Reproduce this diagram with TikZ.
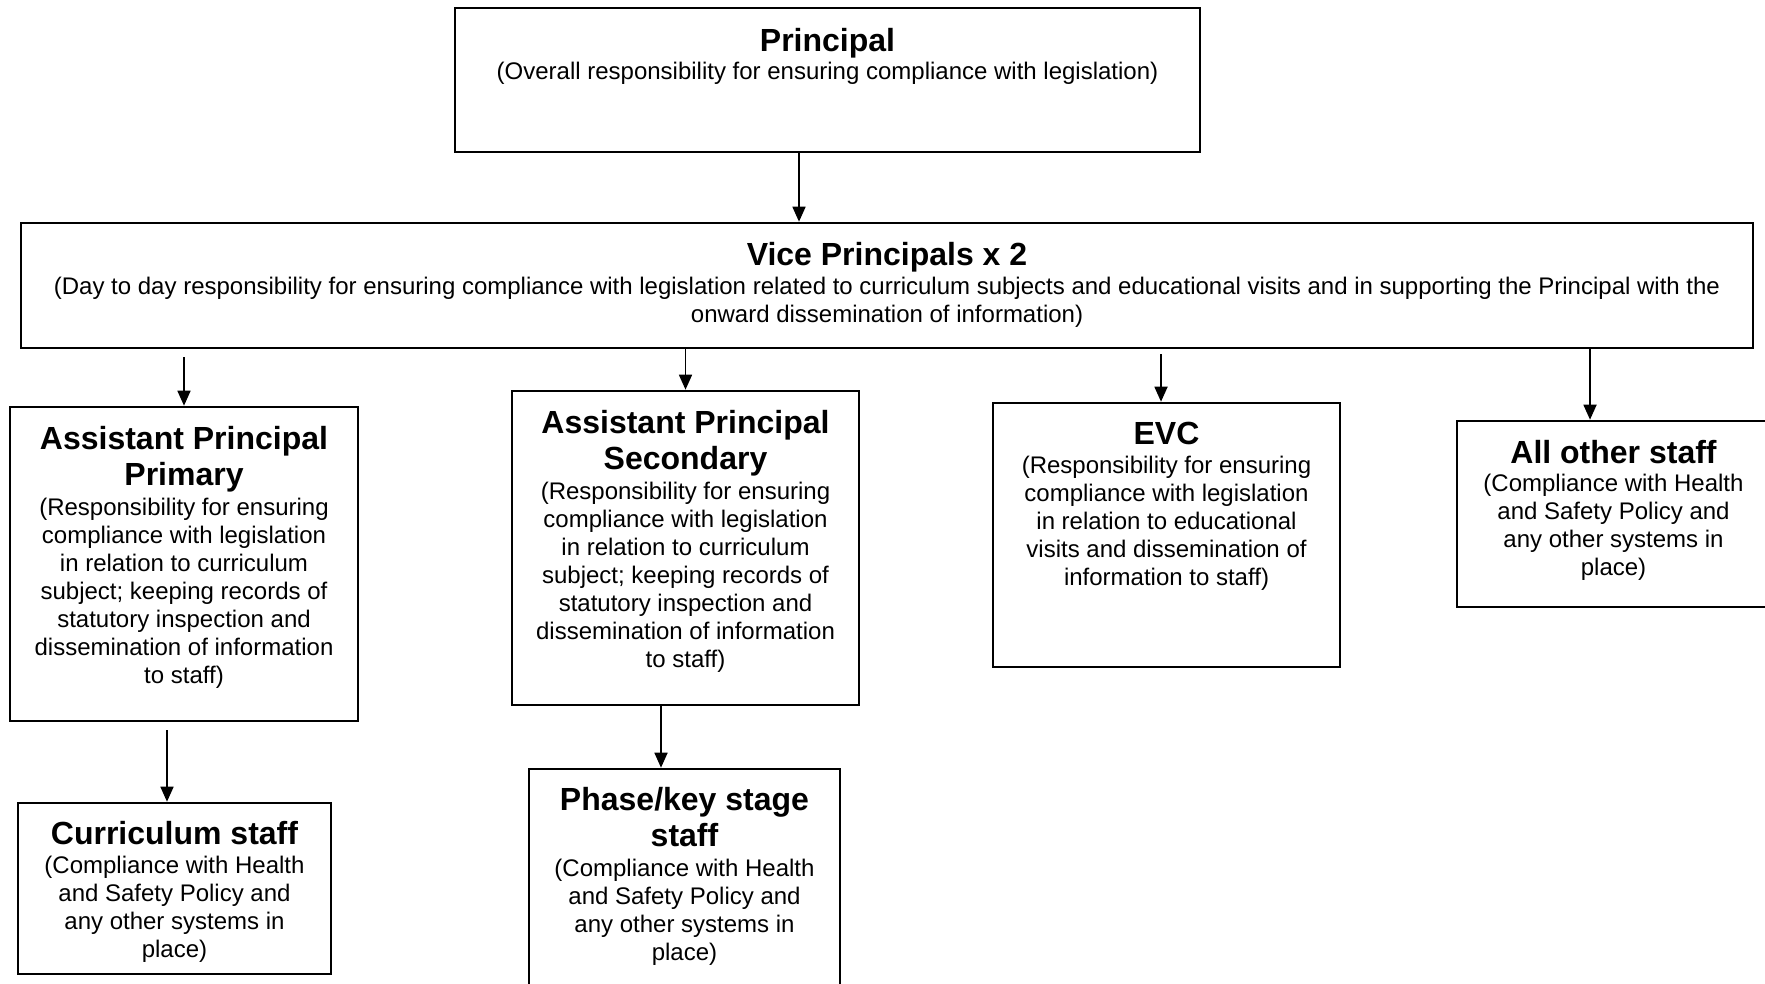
\documentclass[tikz,border=0pt]{standalone}
\usepackage{fontspec}
\setmainfont{Liberation Sans}
\usetikzlibrary{arrows.meta,fit,calc}
\begin{document}
\begin{tikzpicture}[x=0.5pt,y=-0.5pt,
  box/.style={draw,line width=1.3pt,inner sep=0pt},
  ttl/.style={font=\fontsize{16pt}{18pt}\selectfont\bfseries,align=center,inner sep=0pt,anchor=base},
  txt/.style={font=\fontsize{12pt}{14pt}\selectfont,align=center,inner sep=0pt,anchor=base},
  arr/.style={line width=0.85pt,-{Triangle[length=7.5pt,width=6.5pt]}}]
\useasboundingbox (0,0) rectangle (1765,984);
% boxes
\node[box,fit={(455,8) (1200,152)}] (p) {};
\node[box,fit={(21,223) (1753,348)}] (v) {};
\node[box,fit={(10,407) (358,721)}] (app) {};
\node[box,fit={(512,391) (859,705)}] (aps) {};
\node[box,fit={(993,403) (1340,667)}] (evc) {};
\node[box,fit={(1457,421) (1770,607)}] (all) {};
\node[box,fit={(18,803) (331,974)}] (curr) {};
\node[box,fit={(529,769) (840,995)}] (phase) {};
% texts (base anchor = baseline of last line)
\node[ttl] (pt) at (827.5,52) {Principal};
\node[txt] (pb) at (827.5,80) {(Overall responsibility for ensuring compliance with legislation)};
\node[ttl] (vt) at (887,265) {Vice Principals x 2};
\node[txt] (vb) at (887,322) {(Day to day responsibility for ensuring compliance with legislation related to curriculum subjects and educational visits and in supporting the Principal with the\\onward dissemination of information)};
\node[ttl] (appt) at (184,485) {Assistant Principal\\Primary};
\node[txt] (appb) at (184,683) {(Responsibility for ensuring\\compliance with legislation\\in relation to curriculum\\subject; keeping records of\\statutory inspection and\\dissemination of information\\to staff)};
\node[ttl] (apst) at (685.5,469) {Assistant Principal\\Secondary};
\node[txt] (apsb) at (685.5,667) {(Responsibility for ensuring\\compliance with legislation\\in relation to curriculum\\subject; keeping records of\\statutory inspection and\\dissemination of information\\to staff)};
\node[ttl] (evct) at (1166.5,444) {EVC};
\node[txt] (evcb) at (1166.5,585) {(Responsibility for ensuring\\compliance with legislation\\in relation to educational\\visits and dissemination of\\information to staff)};
\node[ttl] (allt) at (1613.5,463) {All other staff};
\node[txt] (allb) at (1613.5,575) {(Compliance with Health\\and Safety Policy and\\any other systems in\\place)};
\node[ttl] (currt) at (174.5,844) {Curriculum staff};
\node[txt] (currb) at (174.5,957) {(Compliance with Health\\and Safety Policy and\\any other systems in\\place)};
\node[ttl] (phaset) at (684.5,846) {Phase/key stage\\staff};
\node[txt] (phaseb) at (684.5,960) {(Compliance with Health\\and Safety Policy and\\any other systems in\\place)};
% arrow anchor points
\coordinate (c0) at ([xshift=-14.25pt]p.south);
\coordinate (c3) at ([xshift=-2.75pt]evc.north);
\coordinate (c4) at ([xshift=-11.75pt]all.north);
\coordinate (c5) at ([xshift=-3.75pt]curr.north);
\coordinate (c6) at ([xshift=-11.75pt]phase.north);
% connectors
\draw[arr] (c0) -- (c0 |- v.north);
\draw[arr,shorten <=4pt] (v.south -| app.north) -- (app.north);
\draw[arr] (v.south -| aps.north) -- (aps.north);
\draw[arr,shorten <=2.5pt] (v.south -| c3) -- (c3);
\draw[arr] (v.south -| c4) -- (c4);
\draw[arr,shorten <=4pt] (app.south -| c5) -- (c5);
\draw[arr] (aps.south -| c6) -- (c6);
\end{tikzpicture}
\end{document}
